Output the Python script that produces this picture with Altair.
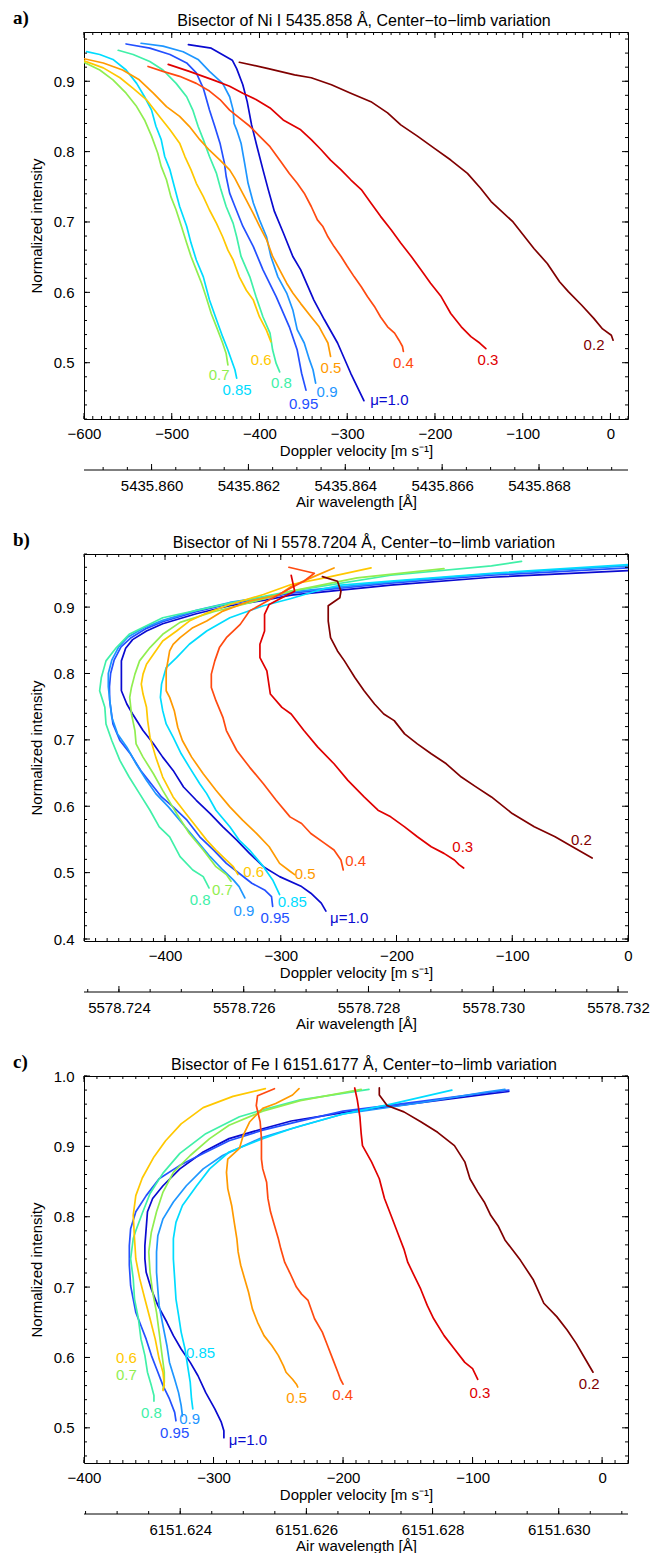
import altair as alt
import numpy as np
import pandas as pd

FONT = "Liberation Sans, Arial, Helvetica, sans-serif"
SERIF = "Liberation Serif, Times New Roman, serif"

MU = ["1.0", "0.95", "0.9", "0.85", "0.8", "0.7", "0.6", "0.5", "0.4", "0.3", "0.2"]
LABELS = ["μ=1.0", "0.95", "0.9", "0.85", "0.8", "0.7", "0.6", "0.5", "0.4", "0.3", "0.2"]
COLORS = ["#0a0ad0", "#2450ff", "#1e96ff", "#00dcff", "#40f0a8", "#90ee50",
          "#ffc800", "#ff9a00", "#ff4a10", "#e00000", "#800000"]
WIDTHS = [1.7, 1.7, 1.7, 1.7, 1.7, 1.7, 1.7, 1.7, 1.7, 1.7, 1.1]

# ---------------- panel a : Ni I 5435.858 ----------------
a_mu100 = [(-481,0.952),(-455,0.947),(-431,0.930),(-426,0.918),(-419,0.895),(-414,0.871),(-409,0.838),(-403,0.808),(-396,0.774),(-390,0.746),(-383,0.715),(-373,0.685),(-362,0.651),(-353,0.632),(-338,0.589),(-326,0.561),(-311,0.528),(-296,0.485),(-281,0.446)]
a_mu095 = [(-552,0.953),(-525,0.947),(-502,0.938),(-483,0.926),(-472,0.912),(-464,0.890),(-457,0.859),(-451,0.836),(-445,0.812),(-440,0.784),(-438,0.765),(-434,0.741),(-428,0.722),(-419,0.694),(-407,0.665),(-396,0.632),(-381,0.594),(-366,0.551),(-357,0.518),(-352,0.485),(-347,0.461)]
a_mu090 = [(-535,0.954),(-510,0.950),(-487,0.942),(-470,0.931),(-457,0.914),(-442,0.897),(-434,0.878),(-430,0.859),(-429,0.840),(-426,0.831),(-421,0.812),(-417,0.784),(-413,0.755),(-407,0.727),(-400,0.703),(-392,0.679),(-387,0.651),(-379,0.622),(-369,0.599),(-362,0.575),(-357,0.547),(-349,0.528),(-343,0.504),(-339,0.490),(-336,0.471)]
a_mu085 = [(-597,0.942),(-582,0.938),(-567,0.931),(-552,0.916),(-540,0.897),(-531,0.878),(-523,0.859),(-518,0.836),(-512,0.817),(-508,0.793),(-502,0.774),(-497,0.750),(-491,0.722),(-483,0.694),(-478,0.670),(-472,0.646),(-464,0.622),(-457,0.589),(-449,0.561),(-442,0.537),(-436,0.518),(-428,0.490),(-426,0.478)]
a_mu080 = [(-561,0.944),(-544,0.938),(-525,0.928),(-510,0.916),(-495,0.897),(-483,0.878),(-476,0.859),(-470,0.836),(-464,0.817),(-457,0.793),(-449,0.769),(-444,0.746),(-438,0.722),(-430,0.698),(-426,0.679),(-421,0.651),(-411,0.622),(-404,0.594),(-396,0.565),(-388,0.542),(-385,0.518),(-381,0.499),(-377,0.487)]
a_mu070 = [(-600,0.927),(-582,0.916),(-567,0.902),(-552,0.883),(-540,0.864),(-531,0.845),(-523,0.822),(-516,0.798),(-512,0.779),(-506,0.760),(-501,0.736),(-495,0.717),(-489,0.694),(-483,0.670),(-478,0.651),(-472,0.632),(-466,0.613),(-461,0.594),(-455,0.570),(-449,0.551),(-442,0.528),(-438,0.513),(-436,0.497)]
a_mu060 = [(-600,0.929),(-578,0.919),(-559,0.905),(-544,0.890),(-529,0.874),(-514,0.850),(-502,0.831),(-491,0.812),(-485,0.793),(-478,0.774),(-472,0.755),(-464,0.736),(-457,0.717),(-449,0.698),(-442,0.679),(-436,0.660),(-430,0.646),(-423,0.622),(-415,0.603),(-407,0.589),(-400,0.565),(-392,0.546),(-387,0.530)]
a_mu050 = [(-600,0.932),(-578,0.926),(-556,0.916),(-537,0.902),(-521,0.883),(-506,0.864),(-491,0.850),(-480,0.836),(-468,0.817),(-457,0.802),(-445,0.788),(-434,0.774),(-428,0.762),(-423,0.750),(-415,0.731),(-407,0.712),(-400,0.694),(-392,0.675),(-385,0.651),(-377,0.632),(-369,0.613),(-362,0.599),(-353,0.584),(-341,0.565),(-332,0.551),(-326,0.537),(-322,0.528),(-319,0.509)]
a_mu040 = [(-527,0.921),(-510,0.914),(-491,0.907),(-472,0.897),(-457,0.886),(-445,0.874),(-434,0.859),(-423,0.848),(-411,0.836),(-400,0.822),(-388,0.807),(-377,0.788),(-366,0.769),(-357,0.755),(-349,0.741),(-341,0.722),(-334,0.703),(-328,0.694),(-322,0.679),(-315,0.665),(-307,0.651),(-300,0.637),(-292,0.622),(-284,0.608),(-277,0.594),(-269,0.580),(-262,0.565),(-254,0.551),(-246,0.542),(-241,0.532),(-237,0.523),(-236,0.516)]
a_mu030 = [(-504,0.924),(-480,0.914),(-453,0.902),(-434,0.893),(-419,0.883),(-404,0.874),(-388,0.862),(-373,0.845),(-353,0.831),(-341,0.817),(-330,0.803),(-319,0.788),(-307,0.774),(-296,0.760),(-284,0.746),(-273,0.727),(-262,0.708),(-250,0.689),(-239,0.670),(-227,0.651),(-216,0.632),(-205,0.613),(-193,0.594),(-182,0.570),(-170,0.551),(-159,0.537),(-149,0.528),(-142,0.520)]
a_mu020 = [(-423,0.927),(-390,0.918),(-360,0.909),(-341,0.905),(-318,0.895),(-296,0.883),(-273,0.871),(-254,0.855),(-239,0.838),(-220,0.822),(-201,0.805),(-182,0.788),(-163,0.769),(-148,0.748),(-136,0.729),(-111,0.700),(-87,0.662),(-72,0.641),(-58,0.615),(-48,0.601),(-33,0.582),(-19,0.563),(-9,0.548),(1,0.539),(3,0.532)]
a_lab_v = [-252, -349.7, -323, -425.6, -375, -446, -398, -318.5, -236, -139.6, -18.7]
a_lab_i = [0.447, 0.442, 0.459, 0.461, 0.471, 0.482, 0.504, 0.492, 0.499, 0.504, 0.525]

# ---------------- panel b : Ni I 5578.7204 ----------------
b_mu100 = [(20,0.957),(0,0.955),(-118,0.945),(-205,0.933),(-291,0.918),(-315,0.910),(-344,0.902),(-373,0.890),(-402,0.875),(-416,0.864),(-428,0.851),(-434,0.838),(-437.7,0.819),(-437.7,0.774),(-433,0.754),(-428,0.739),(-419,0.714),(-410,0.694),(-402,0.674),(-393,0.654),(-384,0.629),(-373,0.609),(-361,0.589),(-350,0.569),(-338,0.549),(-327,0.529),(-315,0.509),(-301,0.494),(-282,0.479),(-274,0.469),(-265,0.454),(-261,0.442)]
b_mu095 = [(20,0.961),(0,0.959),(-118,0.948),(-205,0.936),(-291,0.921),(-315,0.913),(-344,0.905),(-373,0.893),(-402,0.878),(-416,0.868),(-430,0.853),(-438,0.840),(-444,0.820),(-447,0.800),(-448,0.780),(-447.8,0.759),(-445,0.724),(-439,0.699),(-430,0.679),(-421,0.654),(-412,0.634),(-403,0.614),(-393,0.599),(-381,0.579),(-370,0.554),(-358,0.534),(-347,0.514),(-336,0.499),(-325,0.484),(-314,0.474),(-308,0.464),(-307,0.449)]
b_mu090 = [(20,0.964),(0,0.962),(-118,0.950),(-205,0.938),(-291,0.923),(-315,0.915),(-344,0.907),(-373,0.895),(-402,0.880),(-418,0.869),(-432,0.855),(-440,0.840),(-446,0.820),(-449,0.800),(-449,0.780),(-448,0.764),(-446,0.734),(-441,0.709),(-433,0.689),(-425,0.664),(-416,0.639),(-408,0.619),(-397,0.599),(-385,0.574),(-373,0.549),(-361,0.524),(-350,0.504),(-341,0.489),(-336,0.479),(-331,0.462)]
b_mu085 = [(20,0.966),(0,0.964),(-118,0.951),(-205,0.939),(-248,0.933),(-262,0.928),(-291,0.913),(-315,0.902),(-344,0.884),(-364,0.864),(-379,0.844),(-390,0.824),(-399,0.809),(-403,0.784),(-404,0.764),(-402,0.744),(-399,0.724),(-393,0.704),(-386,0.679),(-379,0.659),(-370,0.634),(-364,0.619),(-356,0.594),(-344,0.569),(-336,0.549),(-327,0.534),(-315,0.509),(-307,0.489),(-301,0.467)]
b_mu080 = [(-92,0.969),(-118,0.962),(-205,0.948),(-291,0.924),(-344,0.906),(-402,0.884),(-431,0.859),(-442,0.839),(-451,0.819),(-455,0.794),(-456.5,0.774),(-452,0.749),(-451,0.724),(-446,0.699),(-439,0.669),(-431,0.644),(-422,0.619),(-413,0.594),(-405,0.569),(-396,0.554),(-387,0.524),(-376,0.504),(-367,0.494),(-362,0.477)]
b_mu070 = [(-159,0.958),(-234,0.944),(-291,0.924),(-330,0.905),(-358,0.893),(-387,0.877),(-402,0.859),(-413,0.839),(-422,0.819),(-426,0.799),(-429,0.779),(-430.5,0.764),(-429,0.739),(-426,0.714),(-425,0.694),(-419,0.674),(-410,0.649),(-402,0.624),(-390,0.589),(-379,0.559),(-367,0.534),(-356,0.509),(-347,0.497),(-343,0.487)]
b_mu060 = [(-222,0.959),(-262,0.944),(-291,0.934),(-315,0.919),(-344,0.904),(-364,0.891),(-379,0.879),(-390,0.864),(-402,0.849),(-410,0.829),(-416,0.814),(-419,0.799),(-420.5,0.784),(-419,0.769),(-416,0.749),(-415,0.729),(-413,0.704),(-408,0.674),(-402,0.644),(-393,0.614),(-382,0.589),(-373,0.569),(-364,0.549),(-356,0.534),(-347,0.519),(-341,0.509),(-337,0.497)]
b_mu050 = [(-254,0.959),(-274,0.944),(-291,0.931),(-301,0.919),(-327,0.909),(-350,0.894),(-364,0.879),(-376,0.869),(-387,0.854),(-393,0.844),(-396,0.834),(-399,0.804),(-399,0.774),(-396,0.764),(-392,0.744),(-389,0.719),(-385,0.699),(-377,0.674),(-367,0.649),(-356,0.624),(-344,0.599),(-333,0.579),(-321,0.559),(-310,0.539),(-301,0.514),(-292,0.502),(-288,0.497)]
b_mu040 = [(-293,0.960),(-271,0.951),(-280,0.939),(-291,0.929),(-312,0.909),(-327,0.894),(-335,0.874),(-347,0.854),(-353,0.839),(-357,0.819),(-360,0.799),(-360,0.779),(-356,0.759),(-350,0.734),(-347,0.714),(-338,0.684),(-327,0.659),(-315,0.634),(-304,0.609),(-292,0.584),(-282,0.574),(-274,0.559),(-262,0.544),(-254,0.534),(-248,0.519),(-246,0.504)]
b_mu030 = [(-291,0.948),(-288,0.924),(-299,0.914),(-310,0.904),(-314,0.889),(-314,0.864),(-318,0.844),(-318,0.824),(-312,0.804),(-309,0.769),(-299,0.749),(-291,0.739),(-280,0.714),(-268,0.689),(-254,0.664),(-242,0.639),(-228,0.614),(-216,0.594),(-205,0.584),(-193,0.569),(-182,0.554),(-170,0.539),(-159,0.529),(-150,0.519),(-146,0.512),(-142,0.507)]
b_mu020 = [(-264,0.946),(-251,0.939),(-248,0.924),(-249,0.914),(-259,0.902),(-259,0.879),(-257,0.854),(-251,0.834),(-245,0.819),(-236,0.794),(-228,0.774),(-219,0.754),(-211,0.739),(-202,0.729),(-193,0.709),(-182,0.694),(-170,0.679),(-157,0.664),(-144,0.644),(-132,0.630),(-118,0.614),(-100,0.589),(-81,0.569),(-63,0.554),(-48,0.539),(-31,0.522)]
b_lab_v = [-240.9, -305, -331.9, -290, -369.7, -350.4, -323.5, -279, -235.3, -142.8, -40.3]
b_lab_i = [0.432, 0.431, 0.442, 0.455, 0.459, 0.474, 0.501, 0.498, 0.517, 0.538, 0.549]

# ---------------- panel c : Fe I 6151.6177 ----------------
c_mu100 = [(-72,0.978),(-86,0.975),(-140,0.962),(-200,0.948),(-240,0.936),(-262,0.925),(-288,0.911),(-308,0.892),(-326,0.868),(-339,0.844),(-347,0.826),(-351,0.807),(-352,0.783),(-353,0.759),(-353,0.740),(-352,0.721),(-348,0.697),(-343,0.674),(-336,0.650),(-331,0.631),(-325,0.612),(-318,0.593),(-312,0.574),(-306,0.550),(-299,0.527),(-294,0.508),(-292,0.496),(-292,0.486)]
c_mu095 = [(-72,0.980),(-86,0.977),(-140,0.964),(-200,0.950),(-231,0.937),(-262,0.923),(-288,0.908),(-308,0.890),(-326,0.873),(-342,0.854),(-352,0.830),(-360,0.807),(-364,0.783),(-365,0.759),(-365,0.731),(-364,0.702),(-362,0.683),(-360,0.664),(-356,0.645),(-352,0.626),(-348,0.603),(-344,0.584),(-339,0.560),(-334,0.541),(-330,0.522),(-329,0.510)]
c_mu090 = [(-75,0.981),(-90,0.977),(-140,0.962),(-200,0.946),(-231,0.930),(-262,0.913),(-293,0.887),(-308,0.868),(-321,0.844),(-331,0.821),(-339,0.797),(-343,0.773),(-344,0.750),(-344,0.721),(-343,0.697),(-342,0.674),(-339,0.645),(-336,0.617),(-334,0.593),(-330,0.569),(-327,0.550),(-325,0.532),(-324,0.517)]
c_mu085 = [(-116,0.980),(-163,0.960),(-202,0.945),(-240,0.925),(-262,0.911),(-288,0.892),(-303,0.868),(-313,0.844),(-324,0.816),(-329,0.792),(-331,0.769),(-331,0.740),(-330,0.712),(-329,0.683),(-327,0.660),(-325,0.636),(-322,0.612),(-320,0.588),(-318,0.565),(-317,0.541),(-316,0.527)]
c_mu080 = [(-180,0.981),(-233,0.966),(-262,0.952),(-280,0.942),(-306,0.918),(-326,0.890),(-339,0.862),(-349,0.833),(-355,0.805),(-360,0.780),(-362,0.769),(-364,0.740),(-362,0.712),(-361,0.683),(-358,0.655),(-356,0.626),(-353,0.603),(-351,0.579),(-348,0.560),(-346,0.546),(-346,0.538)]
c_mu070 = [(-186,0.981),(-233,0.965),(-262,0.950),(-288,0.930),(-303,0.911),(-318,0.887),(-331,0.863),(-339,0.835),(-344,0.807),(-348,0.778),(-350,0.750),(-349,0.721),(-347,0.693),(-344,0.664),(-342,0.636),(-340,0.607),(-338,0.579),(-338,0.565),(-339,0.555)]
c_mu060 = [(-260,0.982),(-285,0.971),(-308,0.955),(-325,0.932),(-337,0.908),(-346,0.885),(-355,0.855),(-360,0.830),(-362,0.802),(-361,0.769),(-360,0.740),(-357,0.712),(-353,0.683),(-349,0.655),(-345,0.626),(-342,0.598),(-339,0.579),(-338,0.560),(-339,0.553)]
c_mu050 = [(-234,0.982),(-239,0.973),(-252,0.961),(-262,0.954),(-272,0.935),(-277,0.916),(-280,0.897),(-289,0.882),(-290,0.863),(-289,0.840),(-286,0.816),(-284,0.792),(-282,0.769),(-281,0.750),(-279,0.731),(-276,0.712),(-273,0.693),(-270,0.669),(-266,0.650),(-261,0.631),(-255,0.617),(-250,0.603),(-246,0.588),(-244,0.579),(-239,0.569),(-236,0.562),(-235,0.558)]
c_mu040 = [(-253,0.982),(-266,0.972),(-267,0.958),(-264,0.935),(-263,0.911),(-263,0.882),(-262,0.868),(-259,0.849),(-258,0.826),(-256,0.807),(-253,0.788),(-250,0.769),(-248,0.754),(-245,0.735),(-241,0.720),(-236,0.700),(-232,0.690),(-227,0.681),(-222,0.655),(-216,0.636),(-212,0.617),(-208,0.598),(-204,0.579),(-202,0.569),(-200,0.562)]
c_mu030 = [(-191,0.983),(-189,0.966),(-187,0.942),(-186,0.918),(-185,0.901),(-178,0.878),(-172,0.854),(-168,0.826),(-163,0.802),(-158,0.778),(-153,0.754),(-150,0.735),(-145,0.716),(-140,0.697),(-135,0.674),(-130,0.655),(-122,0.631),(-114,0.612),(-106,0.593),(-100,0.584),(-96,0.569)]
c_mu020 = [(-172,0.983),(-172,0.973),(-166,0.958),(-153,0.949),(-140,0.935),(-127,0.920),(-114,0.901),(-106,0.878),(-102,0.854),(-96,0.835),(-91,0.821),(-86,0.802),(-80,0.786),(-75,0.767),(-63,0.738),(-53,0.710),(-45,0.677),(-35,0.658),(-27,0.639),(-20,0.620),(-14,0.601),(-7,0.579)]
c_lab_v = [-273.4, -330, -318.4, -310, -348, -367.3, -367.3, -235.9, -200.3, -94.3, -9.9]
c_lab_i = [0.482, 0.493, 0.513, 0.607, 0.521, 0.575, 0.599, 0.542, 0.546, 0.550, 0.562]

# axis ranges and tick labels
a_vel_dom = [-600, 20]; a_int_dom = [0.42, 0.97]
b_vel_dom = [-470, 0]; b_int_dom = [0.397, 0.98]
c_vel_dom = [-400, 20]; c_int_dom = [0.45, 1.0]
a_wl_dom = [5435.858605, 5435.869837]
b_wl_dom = [5578.72344, 5578.73216]
c_wl_dom = [6151.622475, 6151.631098]
a_wl_ticks = [5435.860, 5435.862, 5435.864, 5435.866, 5435.868]
b_wl_ticks = [5578.724, 5578.726, 5578.728, 5578.730, 5578.732]
c_wl_ticks = [6151.624, 6151.626, 6151.628, 6151.630]

W, H = 544, 387
MAJ, MINL = 6, 3
WL_OFF = 51

cscale = alt.Scale(domain=MU, range=COLORS)
wscale = alt.Scale(domain=MU, range=WIDTHS)


def curves_df(curves):
    rows = []
    for mu, pts in zip(MU, curves):
        for k, (v, i) in enumerate(pts):
            rows.append({"mu": mu, "v": v, "I": i, "k": k})
    return pd.DataFrame(rows)


def steps(lo, hi, step):
    n = int(round((hi - lo) / step))
    return [round(lo + j * step, 6) for j in range(n + 1)]


def panel(curves, lab_v, lab_i, vdom, idom, vmaj, imaj, wdom, wmaj, title, tag):
    xs = alt.Scale(domain=vdom, nice=False, zero=False)
    ys = alt.Scale(domain=idom, nice=False, zero=False)
    xax = alt.Axis(orient="bottom", values=vmaj, format="d", ticks=False, domain=False, grid=False,
                   labelPadding=7, labelFlush=False, labelOverlap=False,
                   title="Doppler velocity [m s⁻¹]", titlePadding=2)
    yax = alt.Axis(orient="left", values=imaj, format=".1f", ticks=False, domain=False, grid=False,
                   labelPadding=10, labelFlush=False, labelOverlap=False,
                   title="Normalized intensity", titlePadding=9)
    X = lambda f: alt.X(f, scale=xs, axis=xax)
    Y = lambda f: alt.Y(f, scale=ys, axis=yax)

    df = curves_df(curves)
    lines = alt.Chart(df).mark_line(clip=True, strokeJoin="round", strokeCap="round").encode(
        x=X("v:Q"), y=Y("I:Q"),
        color=alt.Color("mu:N", scale=cscale, legend=None),
        strokeWidth=alt.StrokeWidth("mu:N", scale=wscale, legend=None),
        order="k:Q",
    )
    labdf = pd.DataFrame({"mu": MU, "txt": LABELS, "v": lab_v, "I": lab_i})
    labels = alt.Chart(labdf).mark_text(font=FONT, fontSize=15, align="center", baseline="middle").encode(
        x=X("v:Q"), y=Y("I:Q"), text="txt:N",
        color=alt.Color("mu:N", scale=cscale, legend=None),
    )
    tdf = pd.DataFrame({"s": [tag], "t": [title]})
    tagmark = alt.Chart(tdf).mark_text(font=SERIF, fontWeight="bold", fontSize=19, align="left",
                                       baseline="alphabetic", color="black").encode(
        text="s:N", x=alt.value(-71), y=alt.value(-8))
    titlemark = alt.Chart(tdf).mark_text(font=FONT, fontSize=16, align="center",
                                         baseline="alphabetic", color="black").encode(
        text="t:N", x=alt.value(W / 2 + 8), y=alt.value(-6.5))

    vminor = [t for t in steps(vdom[0] - vdom[0] % 10, vdom[1], 10) if vdom[0] <= t <= vdom[1]]
    lo = round(np.ceil(idom[0] / 0.02 - 1e-9) * 0.02, 3)
    iminor = [t for t in steps(lo, idom[1], 0.02) if idom[0] <= t <= idom[1]]

    def xt(vals, L):
        base = alt.Chart(pd.DataFrame({"t": vals})).mark_rule(color="black", strokeWidth=1)
        return [base.encode(x=X("t:Q"), y=alt.value(H), y2=alt.value(H - L)),
                base.encode(x=X("t:Q"), y=alt.value(0), y2=alt.value(L))]

    def yt(vals, L):
        base = alt.Chart(pd.DataFrame({"t": vals})).mark_rule(color="black", strokeWidth=1)
        return [base.encode(y=Y("t:Q"), x=alt.value(0), x2=alt.value(L)),
                base.encode(y=Y("t:Q"), x=alt.value(W), x2=alt.value(W - L))]

    ticks = xt(vminor, MINL) + xt(vmaj, MAJ) + yt(iminor, MINL) + yt(imaj, MAJ)
    vel = alt.layer(lines, labels, tagmark, titlemark, *ticks)

    ws = alt.Scale(domain=wdom, nice=False, zero=False)
    wax = alt.Axis(orient="bottom", offset=WL_OFF, values=wmaj, format=".3f", ticks=False, domain=False,
                   grid=False, labelPadding=8, labelFlush=False, labelOverlap=False,
                   title="Air wavelength [Å]", titlePadding=1)
    wlo = np.ceil(wdom[0] / 0.0005) * 0.0005
    wminor = [t for t in steps(round(wlo, 4), wdom[1], 0.0005) if wdom[0] <= t <= wdom[1]]
    wline = alt.Chart(pd.DataFrame({"a": [0]})).mark_rule(color="black", strokeWidth=1).encode(
        x=alt.value(0), x2=alt.value(W), y=alt.value(H + WL_OFF))
    wmajor_r = alt.Chart(pd.DataFrame({"w": wmaj})).mark_rule(color="black", strokeWidth=1).encode(
        x=alt.X("w:Q", scale=ws, axis=wax),
        y=alt.value(H + WL_OFF), y2=alt.value(H + WL_OFF - MAJ))
    wminor_r = alt.Chart(pd.DataFrame({"w": wminor})).mark_rule(color="black", strokeWidth=1).encode(
        x=alt.X("w:Q", scale=ws, axis=wax),
        y=alt.value(H + WL_OFF), y2=alt.value(H + WL_OFF - MINL))
    wl = alt.layer(wline, wminor_r, wmajor_r)
    return alt.layer(vel, wl).resolve_scale(x="independent").properties(width=W, height=H)


pa = panel([a_mu100, a_mu095, a_mu090, a_mu085, a_mu080, a_mu070, a_mu060, a_mu050, a_mu040, a_mu030, a_mu020],
           a_lab_v, a_lab_i, a_vel_dom, a_int_dom, list(range(-600, 1, 100)), [0.5, 0.6, 0.7, 0.8, 0.9],
           a_wl_dom, a_wl_ticks, "Bisector of Ni I 5435.858 Å, Center−to−limb variation", "a)")
pb = panel([b_mu100, b_mu095, b_mu090, b_mu085, b_mu080, b_mu070, b_mu060, b_mu050, b_mu040, b_mu030, b_mu020],
           b_lab_v, b_lab_i, b_vel_dom, b_int_dom, list(range(-400, 1, 100)), [0.4, 0.5, 0.6, 0.7, 0.8, 0.9],
           b_wl_dom, b_wl_ticks, "Bisector of Ni I 5578.7204 Å, Center−to−limb variation", "b)")
pc = panel([c_mu100, c_mu095, c_mu090, c_mu085, c_mu080, c_mu070, c_mu060, c_mu050, c_mu040, c_mu030, c_mu020],
           c_lab_v, c_lab_i, c_vel_dom, c_int_dom, list(range(-400, 1, 100)), [0.5, 0.6, 0.7, 0.8, 0.9, 1.0],
           c_wl_dom, c_wl_ticks, "Bisector of Fe I 6151.6177 Å, Center−to−limb variation", "c)")

chart = alt.vconcat(pa, pb, pc, spacing=135, bounds="flush").properties(
    padding={"left": 4, "top": 0, "right": 5, "bottom": 5}, background="white"
).configure_view(stroke="black", strokeWidth=1).configure_axis(
    labelFont=FONT, labelFontSize=15, labelColor="black",
    titleFont=FONT, titleFontSize=15, titleFontWeight="normal", titleColor="black",
)

chart.save("out.html", embed_options={"renderer": "svg", "actions": False})
